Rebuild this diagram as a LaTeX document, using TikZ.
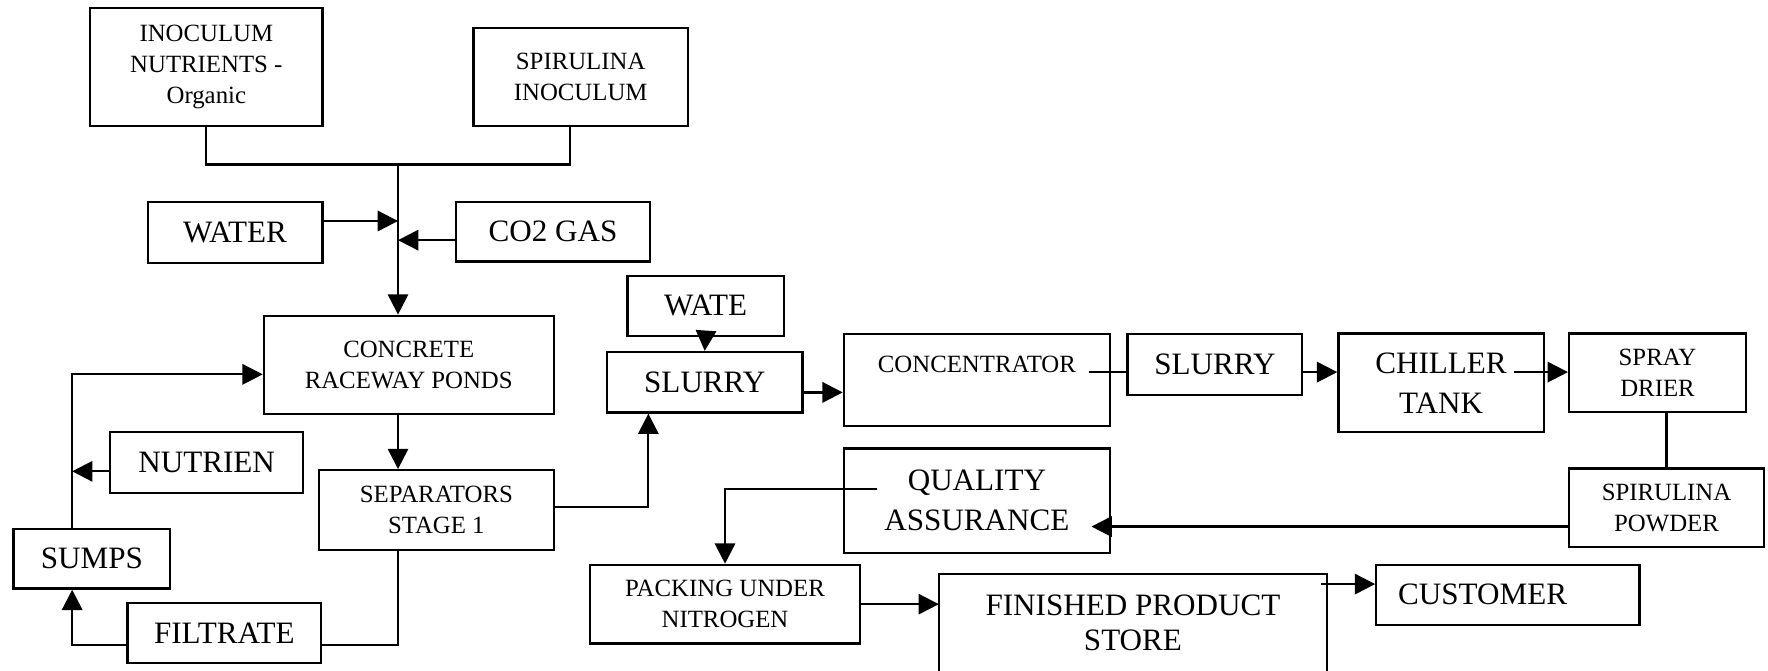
\documentclass[tikz,border=0pt]{standalone}
\usepackage{fontspec}
\setmainfont{Liberation Serif}
\usetikzlibrary{
    arrows.meta,
    positioning
}

\begin{document}
\begin{tikzpicture}[x=0.5pt, y=-0.5pt, line width=1pt,
    >={Triangle[length=9pt,width=9pt]},
    box/.style={draw, inner sep=0pt, align=center},
    sm/.style={font=\fontsize{11}{13.8}\selectfont},
    lg/.style={font=\fontsize{13.8}{17.8}\selectfont}]
    \useasboundingbox (0,0) rectangle (1568,595);
    \node[box, sm, minimum width=103pt, minimum height=52.5pt] (inoc) at (183,59.5) {INOCULUM\\NUTRIENTS -\\Organic};
    \node[box, sm, minimum width=95pt, minimum height=43.5pt] (spir) at (515,68) {SPIRULINA\\INOCULUM};
    \node[box, lg, minimum width=77.5pt, minimum height=27pt] (wat) at (208.5,206) {WATER};
    \node[box, lg, minimum width=86.2pt, minimum height=26.5pt] (co2) at (490.4,205.5) {CO2 GAS};
    \node[box, sm, minimum width=128.5pt, minimum height=43.5pt] (pond) at (362.5,323.5) {CONCRETE\\RACEWAY PONDS};
    \node[box, lg, minimum width=85.75pt, minimum height=27pt] (nut) at (183.25,410) {NUTRIEN};
    \node[box, sm, minimum width=104pt, minimum height=35.5pt] (sep) at (387,452.5) {SEPARATORS\\STAGE 1};
    \node[box, lg, minimum width=69.5pt, minimum height=26.5pt] (sump) at (81.5,495.5) {SUMPS};
    \node[box, lg, minimum width=86pt, minimum height=26.5pt] (filt) at (199,561.5) {FILTRATE};
    \node[box, lg, minimum width=69.2pt, minimum height=26.7pt] (wate) at (625.8,271.3) {WATE};
    \node[box, lg, minimum width=86.6pt, minimum height=26.85pt] (slA) at (625,339) {SLURRY};
    \node[box, sm, minimum width=118pt, text height=16.8pt, text depth=23.95pt] (conc) at (866.4,337.25) {CONCENTRATOR};
    \node[box, lg, minimum width=77.5pt, minimum height=27pt] (slB) at (1077.5,323) {SLURRY};
    \node[box, lg, minimum width=91pt, minimum height=43.8pt] (chil) at (1278,339.5) {CHILLER\\TANK};
    \node[box, sm, minimum width=78.4pt, minimum height=34.9pt] (spray) at (1470,330.6) {SPRAY\\DRIER};
    \node[box, sm, minimum width=86.5pt, minimum height=34.9pt] (pow) at (1478,450.3) {SPIRULINA\\POWDER};
    \node[box, lg, minimum width=118pt, minimum height=46.35pt] (qa) at (866.4,444.1) {QUALITY\\ASSURANCE};
    \node[box, sm, minimum width=120pt, minimum height=34.85pt] (pack) at (643,535.8) {PACKING UNDER\\NITROGEN};
    \node[inner sep=0pt, align=center, font=\fontsize{13.8}{15.6}\selectfont, minimum width=171.2pt, minimum height=42.5pt] (store) at (1004.8,552.5) {FINISHED PRODUCT\\STORE};
    \node[box, lg, text width=97.3pt, inner xsep=9.7pt, align=left, minimum height=26.5pt] (cust) at (1337.3,527.5) {CUSTOMER};
    % store box runs off the bottom
    \draw ([yshift=-6pt]store.south west) -- (store.north west) -- (store.north east) -- ([yshift=-6pt]store.south east);
    % feed
    \coordinate (mix) at (353,146);
    \coordinate (win) at ([yshift=5pt]wat.east);
    \coordinate (cin) at ([yshift=-3.75pt]co2.west);
    \draw (inoc.south) |- (mix) -| ([xshift=-4.7pt]spir.south);
    \draw[->] (mix) -- (mix |- pond.north);
    \draw[->] (win) -- (win -| mix);
    \draw[->] (cin) -- (cin -| mix);
    \draw[->] (mix |- pond.south) -- (mix |- sep.north);
    % recycle loop
    \coordinate (ret) at ([xshift=-8.75pt]sump.south);
    \coordinate (nin) at ([yshift=-4pt]nut.west);
    \draw (mix |- sep.south) |- ([yshift=-5.25pt]filt.east);
    \draw[->] ([yshift=-5.25pt]filt.west) -| (ret);
    \draw[->] (ret |- sump.north) |- ([yshift=-4.25pt]pond.west);
    \draw[->] (nin) -- (nin -| ret);
    % harvest line
    \coordinate (sin) at ([yshift=-4.5pt]slA.east);
    \coordinate (hot) at ([yshift=-3.5pt]slB.west);
    \coordinate (cout) at ([xshift=-10pt]conc.east);
    \coordinate (cold) at ([xshift=-13.5pt,yshift=4.75pt]chil.east);
    \coordinate (pin) at ([yshift=-8.35pt]pow.west);
    \coordinate (qin) at ([xshift=-8.7pt]qa.east);
    \coordinate (sout) at ([xshift=-2.6pt,yshift=-4.5pt]store.north east);
    \draw[->] ([yshift=1.5pt]sep.east) -| ([xshift=-25pt]slA.south);
    \draw[->] (wate.south) -- (slA.north);
    \draw[->] (sin) -- (sin -| conc.west);
    \draw (hot -| cout) -- (hot);
    \draw[->] (hot -| slB.east) -- (hot -| chil.west);
    \draw[->] (cold) -- (cold -| spray.west);
    \draw (pow.north) -- (pow.north |- spray.south);
    \draw[->] (pin) -- (pin -| qin);
    \draw[->] ([xshift=15.3pt,yshift=5.15pt]qa.west) -| (pack.north);
    \draw[->] (pack.east) -- (pack.east -| store.west);
    \draw[->] (sout) -- (sout -| cust.west);
\end{tikzpicture}
\end{document}
